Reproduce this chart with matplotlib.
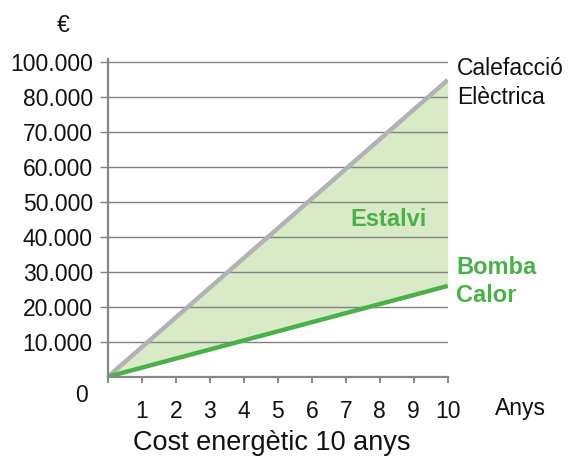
import matplotlib
matplotlib.use("Agg")
import matplotlib.pyplot as plt

# dades: cost acumulat en euros, recta de 0 a 10 anys
anys = [0, 10]
cost_electrica = [0, 85000]
cost_bomba = [0, 26000]

ticks_x = [0, 1, 2, 3, 4, 5, 6, 7, 8, 9, 10]
etiquetes_x = ["", "1", "2", "3", "4", "5", "6", "7", "8", "9", "10"]
ticks_y = [10000, 20000, 30000, 40000, 50000, 60000, 70000, 80000, 90000]
etiquetes_y = ["10.000", "20.000", "30.000", "40.000", "50.000",
               "60.000", "70.000", "80.000", "100.000"]

VERD = "#4cb04a"
VERD_CLAR = "#d9eac6"
GRIS = "#b2b2b6"
GRIS_EIX = "#888888"

plt.rcParams["font.family"] = ["Liberation Sans", "DejaVu Sans"]

fig = plt.figure(figsize=(5.7, 4.66), dpi=100)
W, H = 570, 466
ax = fig.add_axes([108 / W, 1 - 376.7 / H, (447.7 - 108) / W, (376.7 - 59) / H])

ax.fill_between(anys, cost_bomba, cost_electrica, color=VERD_CLAR, lw=0, zorder=1)
ax.plot(anys, cost_electrica, color=GRIS, lw=3.2, zorder=3, solid_capstyle="butt")
ax.plot(anys, cost_bomba, color=VERD, lw=3.2, zorder=3, solid_capstyle="butt")

ax.set_xlim(0, 10)
ax.set_ylim(0, 91000)
ax.set_xticks(ticks_x)
ax.set_xticklabels(etiquetes_x)
ax.set_yticks(ticks_y)
ax.set_yticklabels(etiquetes_y)

ax.grid(axis="y", color="#808080", lw=1.0, zorder=2)
ax.set_axisbelow(False)
for s in ["top", "right"]:
    ax.spines[s].set_visible(False)
for s in ["left", "bottom"]:
    ax.spines[s].set_color(GRIS_EIX)
    ax.spines[s].set_linewidth(1.6)
    ax.spines[s].set_zorder(4)

ax.tick_params(axis="y", length=6, width=1.0, color="#808080", pad=5,
               labelsize=16.5, labelcolor="#111111")
ax.tick_params(axis="x", length=4.5, width=1.4, color=GRIS_EIX, pad=12,
               labelsize=16.5, labelcolor="#111111")

# textos fora dels eixos (coordenades en pixels de la imatge)
def px(x, y):
    return x / W, 1 - y / H

fig.text(*px(63, 26), "€", fontsize=16.5, ha="center", va="center", color="#111111")
fig.text(*px(82, 395), "0", fontsize=16.5, ha="center", va="center", color="#111111")
fig.text(*px(520, 408), "Anys", fontsize=16.5, ha="center", va="center", color="#111111")
fig.text(*px(457, 68), "Calefacció", fontsize=16.5, ha="left", va="center", color="#111111")
fig.text(*px(457, 97), "Elèctrica", fontsize=16.5, ha="left", va="center", color="#111111")
fig.text(*px(388, 220), "Estalvi", fontsize=17, fontweight="bold", ha="center",
         va="center", color=VERD)
fig.text(*px(456, 268), "Bomba", fontsize=17, fontweight="bold", ha="left",
         va="center", color=VERD)
fig.text(*px(456, 296), "Calor", fontsize=17, fontweight="bold", ha="left",
         va="center", color=VERD)
fig.text(*px(272, 443), "Cost energètic 10 anys", fontsize=19.5, ha="center",
         va="center", color="#111111")

fig.savefig("out.png", dpi=100)
